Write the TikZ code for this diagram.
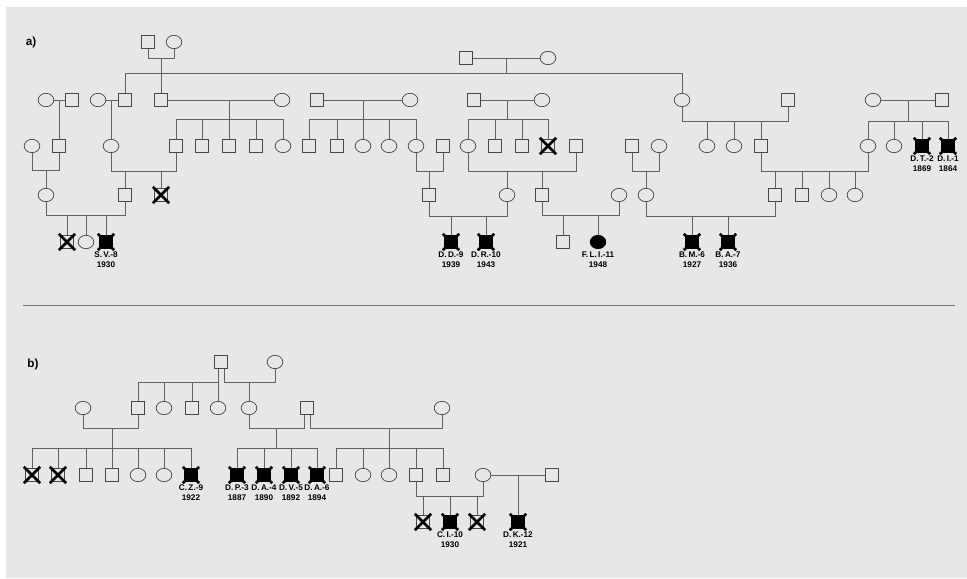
\documentclass[tikz,border=0pt]{standalone}
\usepackage{fontspec}
\setmainfont{Liberation Sans}
\usetikzlibrary{positioning,shapes.geometric}
\definecolor{paper}{RGB}{231,231,231}
\colorlet{ink}{black!72}
\colorlet{wire}{black!62}
% cross over a symbol, a little past its corners
\newcommand\xmark[1]{\draw[xline] ([shift={(-1.4,-1.4)}]#1.north west) -- ([shift={(1.4,1.4)}]#1.south east)
  ([shift={(1.4,-1.4)}]#1.north east) -- ([shift={(-1.4,1.4)}]#1.south west);}
% parents joined below, at height #3
\newcommand\ushape[3]{\draw[link] (#1.south) -- (#1.south |- 0,#3) -| (#2.south);}
\newcommand\sibline[3]{\draw[link] (#2.north |- 0,#1) -- (#3.north |- 0,#1);}
\newcommand\kids[2]{\foreach \kid in {#2}{\draw[link] (\kid.north) -- (\kid.north |- 0,#1);}}

\begin{document}
\begin{tikzpicture}[x=0.03cm, y=-0.03cm,
    link/.style={draw=wire, line width=0.6pt},
    sym/.style={draw=ink, line width=0.6pt, inner sep=0pt, outer sep=0pt},
    male/.style={sym, rectangle, minimum size=0.41cm},
    female/.style={sym, ellipse, minimum width=0.47cm, minimum height=0.40cm},
    dead/.style={male},
    aff/.style={male, fill=black, draw=black},
    afff/.style={female, fill=black, draw=black},
    xline/.style={line width=2.2pt, black},
    idtag/.style={font=\bfseries\fontsize{7}{8.4}\selectfont, align=center, inner sep=0pt},
    panel/.style={font=\bfseries\fontsize{10}{12}\selectfont, inner sep=0pt},
    rule/.style={draw=black!55, line width=0.7pt},
  ]
  \useasboundingbox (0,0) rectangle (967,578);
  \fill[white] (0,0) rectangle (967,578);
  \fill[paper] (6,7) rectangle (967,578);

  % ------------------------------------------------------------------ a)
  \node[panel] (pa) at (31,42) {a)};

  \node[male]   (tlm) at (148,42) {};
  \node[female] (tlf) at (174,42) {};
  \node[male]   (tmm) at (466,58) {};
  \node[female] (tmf) at (548,58) {};

  \foreach \n/\x in {m1/72, m2/125, m3/161, m4/317, m5/474, m6/788, m7/942}
    \node[male] (\n) at (\x,100) {};
  \foreach \n/\x in {f1/46, f2/98, f3/282, f4/410, f5/542, f6/682, f7/873}
    \node[female] (\n) at (\x,100) {};

  \foreach \n/\x in {bm1/59, bm2/176, bm3/202, bm4/229, bm5/256, bm6/309, bm7/337,
                     bm8/443, bm9/495, bm10/522, bm11/576, bm12/632, bm13/761}
    \node[male] (\n) at (\x,146) {};
  \foreach \n/\x in {bf1/32, bf2/111, bf3/283, bf4/363, bf5/389, bf6/416, bf7/468,
                     bf8/659, bf9/707, bf10/734, bf11/868, bf12/894}
    \node[female] (\n) at (\x,146) {};
  \node[dead] (bd1) at (548,146) {};
  \node[aff]  (ba1) at (922,146) {};
  \node[aff]  (ba2) at (948,146) {};

  \foreach \n/\x in {cm1/125, cm2/429, cm3/542, cm4/775, cm5/802}
    \node[male] (\n) at (\x,195) {};
  \foreach \n/\x in {cf1/46, cf2/507, cf3/619, cf4/646, cf5/829, cf6/855}
    \node[female] (\n) at (\x,195) {};
  \node[dead] (cd1) at (161,195) {};

  \node[dead]   (dd1) at (67,242) {};
  \node[female] (df1) at (86,242) {};
  \node[male]   (dm1) at (563,242) {};
  \node[afff]   (dfa) at (598,242) {};
  \foreach \n/\x in {da1/106, da2/451, da3/486, da4/692, da5/728}
    \node[aff] (\n) at (\x,242) {};

  % founders
  \ushape{tlm}{tlf}{58}
  \draw[link] (m3.north) -- (m3.north |- 0,58);
  \draw[link] (tmm.east) -- coordinate (tmc) (tmf.west);
  \draw[link] (tmc) -- (tmc |- 0,73);
  \draw[link] (m2.north) -- (m2.north |- 0,73) -| (f6.north);

  % second row of couples
  \draw[link] (f1.east) -- (m1.west);
  \draw[link] (bm1.north) -- (bm1.north |- m1);
  \draw[link] (f2.east) -- (m2.west);
  \draw[link] (bf2.north) -- (bf2.north |- m2);
  \draw[link] (m3.east) -- (f3.west);
  \draw[link] (bm4.north) -- (bm4.north |- m3);
  \sibline{119}{bm2}{bf3}
  \kids{119}{bm2,bm3,bm5,bf3}
  \draw[link] (m4.east) -- (f4.west);
  \draw[link] (bf4.north) -- (bf4.north |- m4);
  \sibline{119}{bm6}{bf6}
  \kids{119}{bm6,bm7,bf5,bf6}
  \draw[link] (m5.east) -- coordinate (m5c) (f5.west);
  \draw[link] (m5c) -- (m5c |- 0,119);
  \sibline{119}{bf7}{bd1}
  \kids{119}{bf7,bm9,bm10,bd1}
  \ushape{f6}{m6}{121}
  \kids{121}{bf9,bf10,bm13}
  \draw[link] (f7.east) -- coordinate (m7c) (m7.west);
  \draw[link] (m7c) -- (m7c |- 0,121);
  \sibline{121}{bf11}{ba2}
  \kids{121}{bf11,bf12,ba1,ba2}

  % third row of couples
  \ushape{bf1}{bm1}{170}
  \kids{170}{cf1}
  \ushape{bf2}{bm2}{171}
  \kids{171}{cm1,cd1}
  \ushape{bf6}{bm8}{171}
  \kids{171}{cm2}
  \ushape{bf7}{bm11}{171}
  \kids{171}{cf2,cm3}
  \ushape{bm12}{bf8}{171}
  \kids{171}{cf4}
  \ushape{bm13}{bf11}{171}
  \kids{171}{cm4,cm5,cf5,cf6}

  % fourth row of couples
  \ushape{cf1}{cm1}{215}
  \kids{215}{dd1,df1,da1}
  \ushape{cm2}{cf2}{216}
  \kids{216}{da2,da3}
  \ushape{cm3}{cf3}{215}
  \kids{215}{dm1,dfa}
  \ushape{cf4}{cm4}{216}
  \kids{216}{da4,da5}

  \draw[rule] (23,305) -- (955,305);

  % ------------------------------------------------------------------ b)
  \node[panel] (pb) at (33,364) {b)};

  \node[male]   (pm) at (221,362) {};
  \node[female] (pf) at (275,362) {};

  \foreach \n/\x in {qm1/138, qm2/192, qm3/307}
    \node[male] (\n) at (\x,408) {};
  \foreach \n/\x in {qf1/83, qf2/164, qf3/218, qf4/249, qf5/442}
    \node[female] (\n) at (\x,408) {};

  \foreach \n/\x in {rm1/86, rm2/112, rm3/336, rm4/416, rm5/443, rm6/552}
    \node[male] (\n) at (\x,475) {};
  \foreach \n/\x in {rf1/138, rf2/164, rf3/363, rf4/389, rf5/483}
    \node[female] (\n) at (\x,475) {};
  \foreach \n/\x in {ra1/191, ra2/237, ra3/264, ra4/291, ra5/317}
    \node[aff] (\n) at (\x,475) {};
  \node[dead] (rd1) at (32,475) {};
  \node[dead] (rd2) at (58,475) {};

  \node[dead] (sd1) at (423,522) {};
  \node[aff]  (sa1) at (450,522) {};
  \node[dead] (sd2) at (477,522) {};
  \node[aff]  (sa2) at (518,522) {};

  % the founder with two wives
  \draw[link] (qf3.north) -- (qf3.north |- pm.south);
  \sibline{382}{qm1}{qf3}
  \kids{382}{qm1,qf2,qm2}
  \coordinate (pmr) at ([shift={(3,0)}]pm.south);
  \draw[link] (pmr) -- (pmr |- 0,382) -| (pf.south);
  \kids{382}{qf4}

  \ushape{qf1}{qm1}{428}
  \draw[link] (rm2.north) -- (rm2.north |- 0,428);
  \sibline{448}{rd1}{ra1}
  \kids{448}{rd1,rd2,rm1,rf1,rf2,ra1}

  % the son-in-law with two wives
  \coordinate (qml) at ([shift={(-3,0)}]qm3.south);
  \coordinate (qmr) at ([shift={(3,0)}]qm3.south);
  \draw[link] (qf4.south) -- (qf4.south |- 0,428) -- coordinate (qc1) (qml |- 0,428) -- (qml);
  \draw[link] (qc1) -- (qc1 |- 0,448);
  \sibline{448}{ra2}{ra5}
  \kids{448}{ra2,ra3,ra4,ra5}
  \draw[link] (qmr) -- (qmr |- 0,428) -| (qf5.south);
  \draw[link] (rf4.north) -- (rf4.north |- 0,428);
  \sibline{448}{rm3}{rm5}
  \kids{448}{rm3,rf3,rm4,rm5}

  \ushape{rm4}{rf5}{496}
  \kids{496}{sd1,sa1,sd2}
  \draw[link] (rf5.east) -- (rm6.west);
  \draw[link] (sa2.north) -- (sa2.north |- rm6);

  % crosses
  \foreach \n in {bd1,cd1,dd1,rd1,rd2,sd1,sd2,ba1,ba2,da1,da2,da3,da4,da5,
                  ra1,ra2,ra3,ra4,ra5,sa1,sa2}
    {\xmark{\n}}

  % case numbers and years of birth
  \foreach \n/\t in {da1/{S.\,V.-8\\1930}, da2/{D.\,D.-9\\1939}, da3/{D.\,R.-10\\1943},
                     dfa/{F.\,L.\,I.-11\\1948}, da4/{B.\,M.-6\\1927}, da5/{B.\,A.-7\\1936},
                     ba1/{D.\,T.-2\\1869}, ba2/{D.\,I.-1\\1864},
                     ra1/{C.\,Z.-9\\1922}, ra2/{D.\,P.-3\\1887}, ra3/{D.\,A.-4\\1890},
                     ra4/{D.\,V.-5\\1892}, ra5/{D.\,A.-6\\1894},
                     sa1/{C.\,I.-10\\1930}, sa2/{D.\,K.-12\\1921}}
    \node[idtag, below=2.5pt of \n] (t\n) {\t};

\end{tikzpicture}
\end{document}
